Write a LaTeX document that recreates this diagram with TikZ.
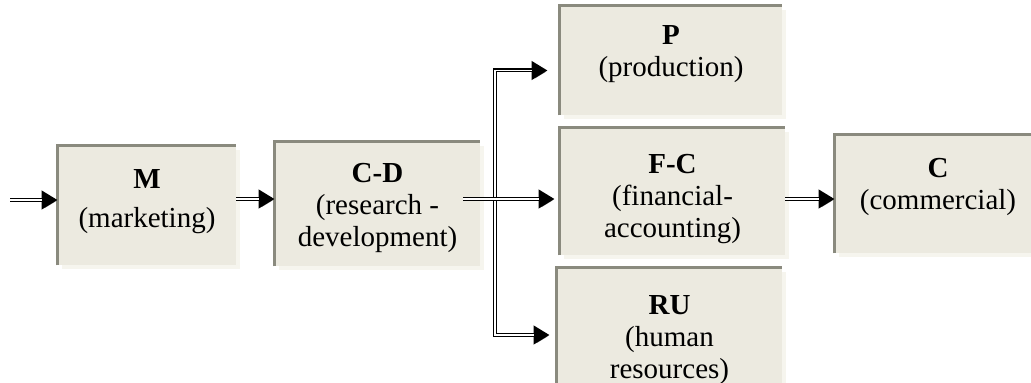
\documentclass[tikz,border=0pt]{standalone}
\usepackage{fontspec}
\setmainfont{Liberation Serif}
\usetikzlibrary{arrows.meta, shadows, calc}

\definecolor{boxfill}{RGB}{236,234,224}
\definecolor{boxedge}{RGB}{138,138,126}
\definecolor{boxshade}{RGB}{246,245,238}

\begin{document}
\begin{tikzpicture}[x=0.5pt, y=-0.5pt, >={Triangle[length=8pt, width=9pt]}]

        % --- Styles ---
        \tikzstyle{block} = [rectangle, fill=boxfill, inner sep=0pt, drop shadow={shadow xshift=2pt, shadow yshift=-2pt, fill=boxshade, opacity=1}]
        \tikzstyle{lbl} = [align=center, inner sep=0pt, font=\fontsize{14.5}{16}\selectfont]
        \tikzstyle{edge} = [draw=boxedge, line width=1.5pt]
        \tikzstyle{arrow} = [line width=2pt, ->, preaction={draw=black!45, transform canvas={shift={(0.7pt,-0.7pt)}}}, postaction={draw=white, line width=0.6pt, -, shorten >=8pt}]

        \clip (0,0) rectangle (1031,383);

        % --- Boxes ---
        \node (m) [block, minimum width=89pt, minimum height=59.5pt] at (147,205.5) {};
        \node (cd) [block, minimum width=102.5pt, minimum height=62pt] at (377.5,204) {};
        \node (p) [block, minimum width=111pt, minimum height=54.5pt] at (671,60.5) {};
        \node (fc) [block, minimum width=112.5pt, minimum height=63.5pt] at (672.5,191.5) {};
        \node (ru) [block, minimum width=112.5pt, minimum height=66pt] at (669.5,334) {};
        \node (c) [block, minimum width=103pt, minimum height=59pt] at (938,194) {};

        % gray top and left edges
        \foreach \n in {m,cd,p,fc,ru,c}
            \draw[edge] (\n.south west) |- (\n.north east);

        % --- Texts ---
        \node (m_txt) [lbl, yshift=1.75pt] at (m) {\textbf{M}\\[3.5pt](marketing)};
        \node (cd_txt) [lbl, yshift=-1.75pt] at (cd) {\textbf{C-D}\\(research -\\development)};
        \node (p_txt) [lbl, yshift=3pt] at (p) {\textbf{P}\\(production)};
        \node (fc_txt) [lbl, yshift=-4pt] at (fc) {\textbf{F-C}\\(financial-\\accounting)};
        \node (ru_txt) [lbl, yshift=-3.25pt] at (ru) {\textbf{RU}\\(human\\resources)};
        \node (c_txt) [lbl, yshift=3.75pt] at (c) {\textbf{C}\\(commercial)};

        % --- Arrows ---
        \coordinate (in) at (10,200);
        \coordinate (row) at (0,199);
        \coordinate (bus) at (495,199);

        \draw[arrow] (in) -- (m.west |- in);
        \draw[arrow] (m.east |- row) -- (cd.west |- row);
        \draw[arrow] (bus) |- ($(p.west)+(-12,10)$);
        \draw[arrow] (bus) |- ($(ru.west)+(-7,1)$);
        \draw[arrow, shorten <=-8.5pt] (cd.east |- row) -- ($(fc.west |- row)+(-5,0)$);
        \draw[arrow] (fc.east |- row) -- (c.west |- row);

\end{tikzpicture}
\end{document}
